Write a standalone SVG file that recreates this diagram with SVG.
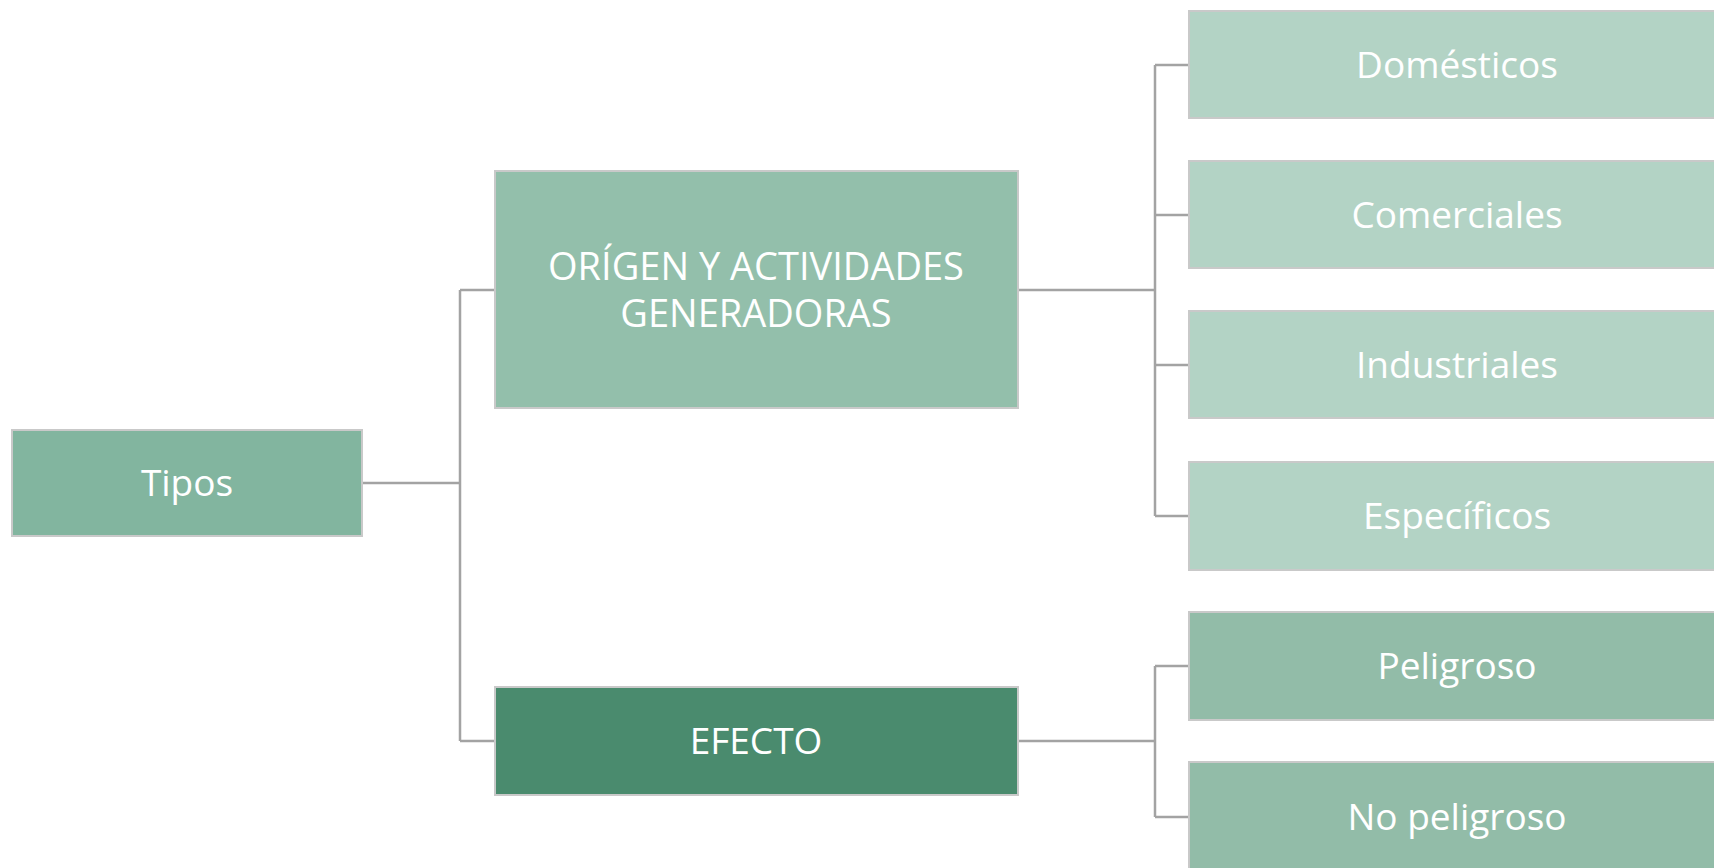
<svg xmlns="http://www.w3.org/2000/svg" width="1714" height="868" viewBox="0 0 1714 868">
<style>
.bx{stroke:#c9c9c9;stroke-width:2}
.t{font-family:"Open Sans","Noto Sans",sans-serif;font-size:37px;fill:#ffffff;text-anchor:middle;dominant-baseline:central}
.c{fill:none;stroke:#a3a3a3;stroke-width:2.5}
</style>
<rect width="1714" height="868" fill="#ffffff"/>
<g id="connectors">
<path class="c" d="M362 483 H460 M460 290 V741 M460 290 H495 M460 741 H495"/>
<path class="c" d="M1018 290 H1155 M1155 65 V516 M1155 65 H1189 M1155 215 H1189 M1155 365 H1189 M1155 516 H1189"/>
<path class="c" d="M1018 741 H1155 M1155 666 V817 M1155 666 H1189 M1155 817 H1189"/>
</g>
<g id="tipos">
<rect class="bx" x="12" y="430" width="350" height="106" fill="#82b59f"/>
<text class="t" x="187" y="481">Tipos</text>
</g>
<g id="origen">
<rect class="bx" x="495" y="171" width="523" height="237" fill="#93bfab"/>
<text class="t" x="756" y="265" style="font-size:38px">ORÍGEN Y ACTIVIDADES</text>
<text class="t" x="756" y="312" style="font-size:38px">GENERADORAS</text>
</g>
<g id="efecto">
<rect class="bx" x="495" y="687" width="523" height="108" fill="#4a8b6e"/>
<text class="t" x="756" y="739">EFECTO</text>
</g>
<g id="domesticos">
<rect class="bx" x="1189" y="11" width="540" height="107" fill="#b3d3c5"/>
<text class="t" x="1457" y="63">Domésticos</text>
</g>
<g id="comerciales">
<rect class="bx" x="1189" y="161" width="540" height="107" fill="#b3d3c5"/>
<text class="t" x="1457" y="213">Comerciales</text>
</g>
<g id="industriales">
<rect class="bx" x="1189" y="311" width="540" height="107" fill="#b3d3c5"/>
<text class="t" x="1457" y="363">Industriales</text>
</g>
<g id="especificos">
<rect class="bx" x="1189" y="462" width="540" height="108" fill="#b3d3c5"/>
<text class="t" x="1457" y="514">Específicos</text>
</g>
<g id="peligroso">
<rect class="bx" x="1189" y="612" width="540" height="108" fill="#92bca8"/>
<text class="t" x="1457" y="664">Peligroso</text>
</g>
<g id="no-peligroso">
<rect class="bx" x="1189" y="762" width="540" height="108" fill="#92bca8"/>
<text class="t" x="1457" y="815">No peligroso</text>
</g>
</svg>
